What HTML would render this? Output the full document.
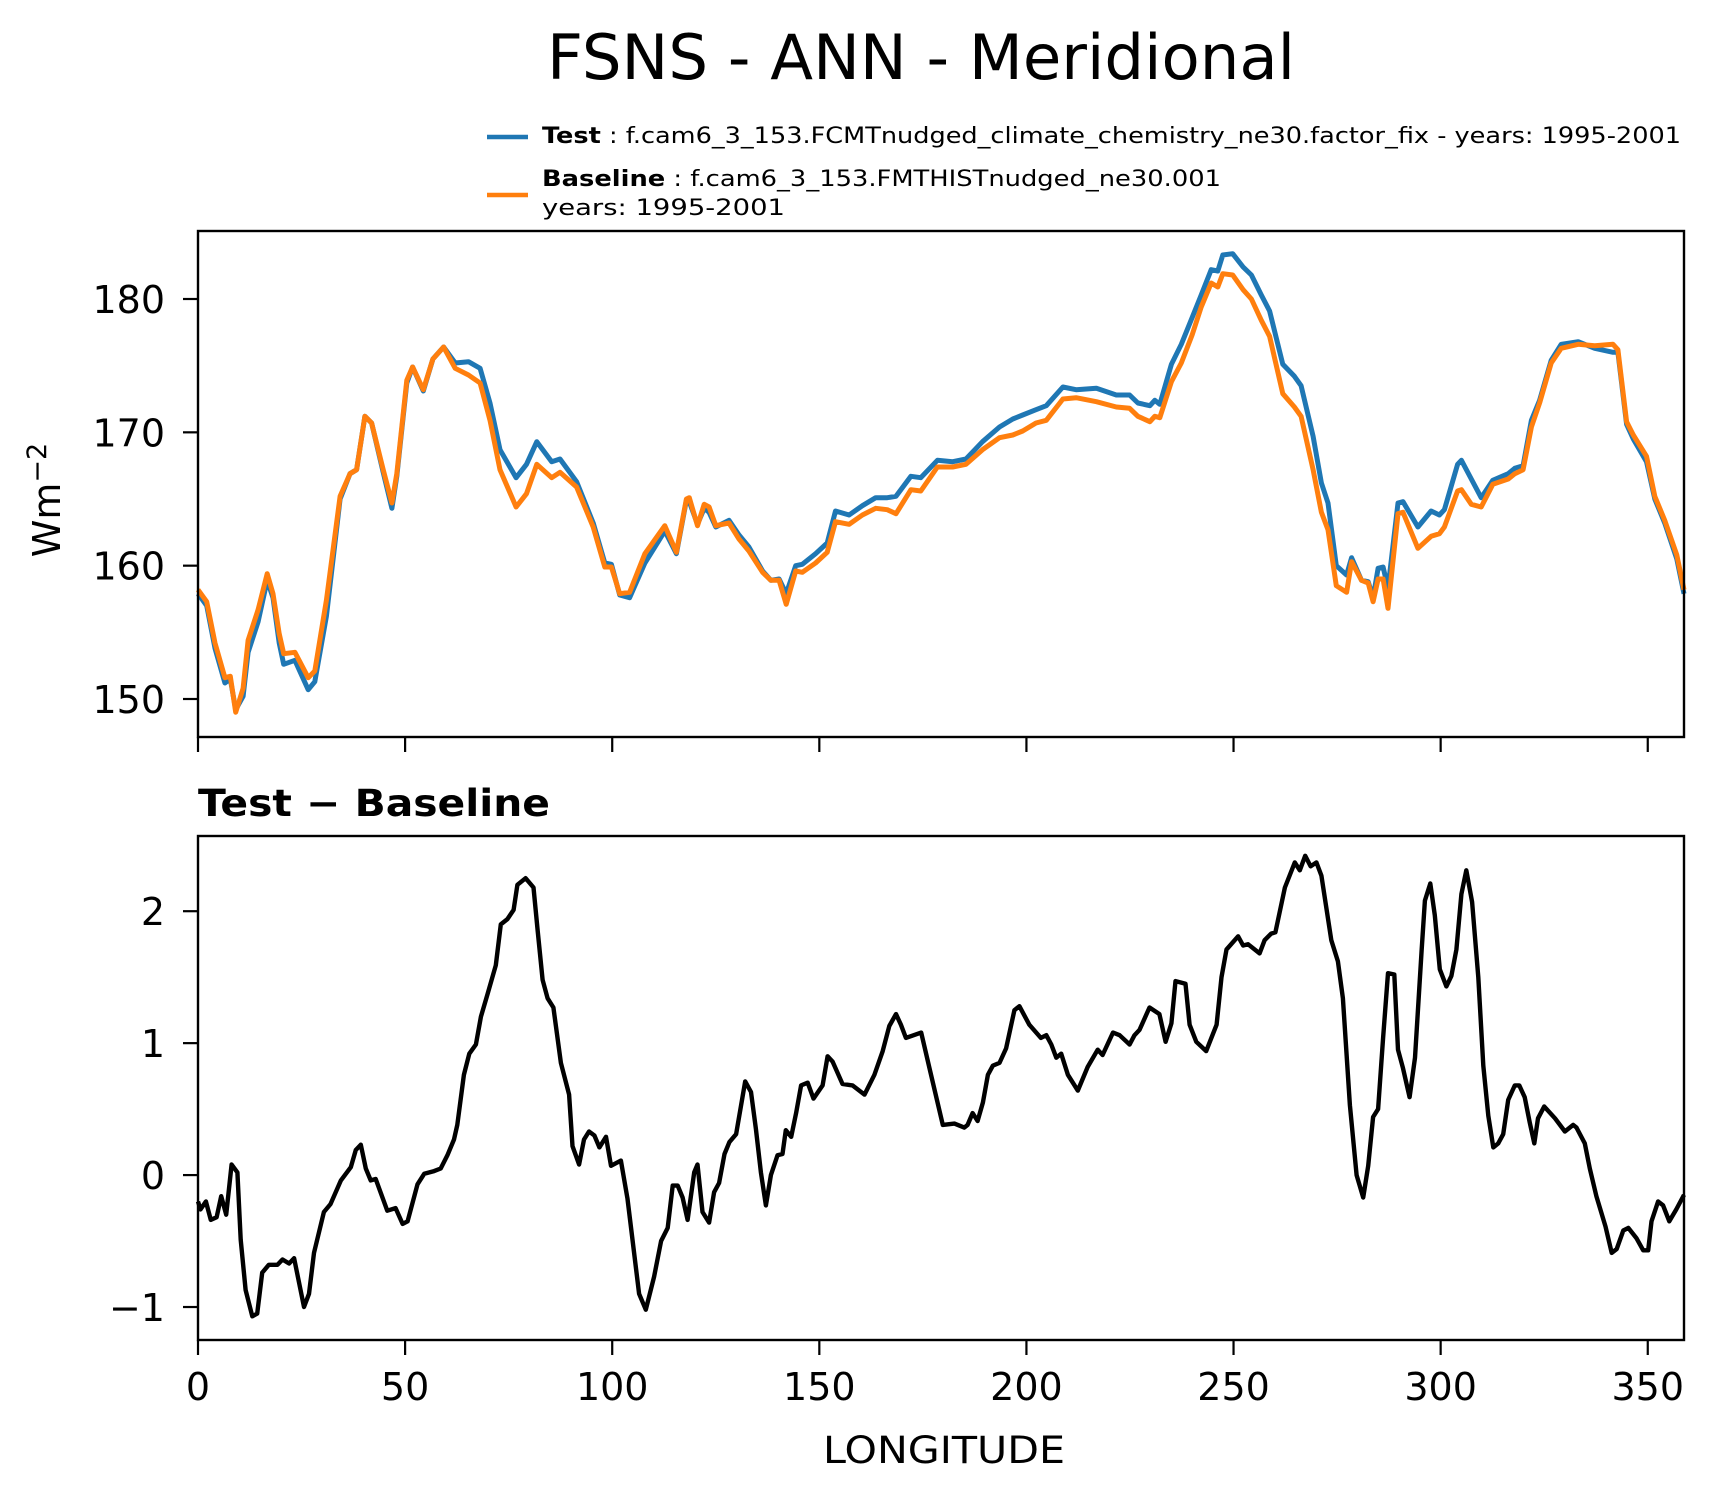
<!DOCTYPE html>
<html><head><meta charset="utf-8"><title>FSNS - ANN - Meridional</title>
<style>
html,body{margin:0;padding:0;background:#fff;}
svg{display:block;font-family:"DejaVu Sans","Liberation Sans",sans-serif;}
</style></head>
<body>
<svg id="fig" xmlns="http://www.w3.org/2000/svg" width="1717" height="1496" viewBox="0 0 1717 1496">
<rect width="1717" height="1496" fill="#fff"/>
<text x="921" y="79" font-size="62" text-anchor="middle" textLength="748" lengthAdjust="spacingAndGlyphs">FSNS - ANN - Meridional</text>
<g>
<line x1="487" y1="137" x2="528" y2="137" stroke="#1f77b4" stroke-width="4.5"/>
<text x="542" y="143" font-size="22" textLength="1139" lengthAdjust="spacingAndGlyphs"><tspan font-weight="bold">Test</tspan> : f.cam6_3_153.FCMTnudged_climate_chemistry_ne30.factor_fix - years: 1995-2001</text>
<line x1="487" y1="195" x2="528" y2="195" stroke="#ff7f0e" stroke-width="4.5"/>
<text x="542" y="186" font-size="22" textLength="679" lengthAdjust="spacingAndGlyphs"><tspan font-weight="bold">Baseline</tspan> : f.cam6_3_153.FMTHISTnudged_ne30.001</text>
<text x="542" y="215" font-size="22" textLength="243" lengthAdjust="spacingAndGlyphs">years: 1995-2001</text>
</g>
<g id="topPanel"></g>
<g id="botPanel"></g>
<text transform="translate(60,500) rotate(-90)" font-size="38" text-anchor="middle">Wm<tspan dy="-14" font-size="27">−2</tspan></text>
<text x="198" y="816" font-size="37" font-weight="bold" textLength="352" lengthAdjust="spacingAndGlyphs">Test − Baseline</text>
<text x="944" y="1463" font-size="37" text-anchor="middle" textLength="242" lengthAdjust="spacingAndGlyphs">LONGITUDE</text>
</svg>
<script>
const baseLon = [0,2.1,4.1,6.5,7.8,9.1,10.9,12.1,14.5,16.7,18.1,19.6,20.7,23.4,26.6,28.2,31,34.3,36.7,38.3,40.3,41.9,44.7,46.8,48,50.4,51.8,54.4,56.7,59.3,62.1,65.3,68.1,70.5,72.9,76.8,79.3,81.8,85.4,87.4,91.4,95.4,98.2,99.8,101.8,104.2,107.9,112.7,115.5,117.9,118.6,120.6,122.2,123.4,125,128.2,130.6,133,136.3,138.3,140.3,142,144.3,145.9,149.1,151.9,153.9,157.2,160.4,163.6,166.4,168.5,172.1,174.5,178.5,182.2,185.4,189.4,193.5,196.7,199.1,202.3,204.8,208.8,212,216.9,221.7,224.9,226.9,229.8,231,232.2,235,237.4,240,242.2,244.6,246.2,247.4,249.8,252.3,254.3,256.7,258.7,261.9,264.7,266.3,269.2,271.2,272.8,274.8,277.3,278.5,280.9,282.5,283.7,284.9,286.1,287.3,289.7,290.9,294.5,297.7,299.7,300.9,304.1,305,307.4,309.8,312.6,316.3,317.9,319.9,321.9,323.9,326.7,329.1,333.2,337.2,341.6,342.8,344.9,346.5,349.7,351.7,354.1,357,358.75];
const baselineVals = [158.2,157.3,154.2,151.6,151.7,149.0,150.8,154.4,156.7,159.4,157.9,154.9,153.4,153.5,151.6,152.1,157.4,165.2,166.9,167.2,171.2,170.7,167.2,164.7,166.9,173.9,174.9,173.2,175.5,176.4,174.8,174.3,173.7,170.9,167.2,164.4,165.4,167.6,166.6,167.0,165.9,162.9,159.9,159.9,157.9,158.0,160.9,163.0,161.0,165.0,165.1,163.0,164.6,164.4,163.0,163.2,162.0,161.1,159.5,158.9,158.9,157.1,159.6,159.5,160.2,161.0,163.3,163.1,163.8,164.3,164.2,163.9,165.7,165.6,167.4,167.4,167.6,168.7,169.6,169.8,170.1,170.7,170.9,172.5,172.6,172.3,171.9,171.8,171.2,170.8,171.2,171.1,173.8,175.2,177.3,179.4,181.2,180.9,181.9,181.8,180.7,180.0,178.4,177.2,172.9,171.9,171.2,167.2,164.0,162.7,158.5,158.0,160.3,158.9,158.7,157.3,159.0,159.0,156.8,163.9,164.0,161.3,162.2,162.4,162.9,165.6,165.7,164.6,164.4,166.1,166.5,166.9,167.2,170.4,172.2,175.2,176.3,176.6,176.5,176.6,176.2,170.8,169.8,168.2,165.2,163.4,160.8,158.2];
const testVals = [157.9,157.0,153.8,151.2,151.5,149.2,150.2,153.5,155.8,158.9,157.6,154.2,152.6,152.9,150.7,151.3,156.2,165.0,166.9,167.2,171.2,170.7,167.0,164.3,166.7,173.7,174.9,173.1,175.5,176.4,175.2,175.3,174.8,172.2,168.7,166.6,167.6,169.3,167.8,168.0,166.3,163.2,160.2,160.1,157.8,157.6,160.2,162.6,160.9,164.9,164.8,163.1,164.3,164.0,162.9,163.4,162.3,161.4,159.6,158.9,159.0,157.9,160.0,160.1,160.9,161.7,164.1,163.8,164.5,165.1,165.1,165.2,166.7,166.6,167.9,167.8,168.0,169.3,170.4,171.0,171.3,171.7,172.0,173.4,173.2,173.3,172.8,172.8,172.2,172.0,172.4,172.1,175.1,176.6,178.6,180.3,182.2,182.1,183.3,183.4,182.4,181.8,180.3,179.1,175.1,174.2,173.5,169.7,166.2,164.7,160.0,159.3,160.6,158.9,158.8,157.6,159.8,159.9,158.3,164.7,164.8,162.9,164.1,163.8,164.2,167.6,167.9,166.5,165.1,166.4,166.9,167.3,167.5,170.9,172.4,175.4,176.6,176.8,176.3,176.0,176.0,170.6,169.5,167.8,165.0,163.2,160.5,157.9];
const diffLon = [0,0.6,1.9,3.1,4.5,5.6,6.8,8.1,9.5,10.3,11.5,13.1,14.3,15.5,17.1,19.2,20.4,22.0,23.2,25.6,26.8,28.0,30.4,32.0,34.5,36.9,38.1,39.3,40.5,41.7,42.9,45.7,47.7,49.4,50.6,53.0,54.6,57.0,58.6,60.2,61.8,62.6,64.2,65.5,67.1,68.3,69.9,71.9,73.1,74.7,76.2,77.1,79.1,81.0,82.0,83.2,84.4,85.8,87.6,89.6,90.4,92.0,93.2,94.4,95.7,96.9,98.5,99.7,102.1,103.7,106.5,108.1,110.1,111.8,113.4,114.6,115.8,117.0,118.2,119.8,120.6,121.8,123.4,124.6,125.8,127.1,128.3,129.9,132.1,133.5,134.7,135.9,137.1,138.3,139.9,141.1,141.9,143.2,144.4,145.6,147.2,148.6,150.8,152.0,153.2,155.6,158.0,160.9,163.3,165.3,166.9,168.5,169.7,170.9,174.6,176.6,179.8,182.6,185.0,185.8,187.0,188.2,189.5,190.7,191.9,193.5,195.1,197.1,198.3,200.7,203.5,204.8,206.0,207.2,208.4,210.0,212.4,214.8,217.2,218.4,220.9,222.5,224.9,226.1,227.3,229.7,232.1,233.6,235.0,236.0,238.4,239.4,241.0,243.4,245.9,247.1,248.3,251.1,252.3,253.5,256.3,257.5,259.1,260.1,262.4,264.8,266.0,267.3,268.6,270.0,271.2,273.6,275.2,276.4,278.1,279.7,281.3,282.5,283.7,284.9,286.1,287.3,288.8,289.7,290.9,292.5,293.8,295.4,296.2,297.5,298.6,299.8,301.4,302.6,303.8,305.0,306.2,307.6,309.1,310.3,311.5,312.7,313.9,315.1,316.3,317.9,319.0,320.3,321.5,322.6,323.5,325.0,327.6,330.0,332.0,332.8,334.8,336.0,337.6,339.8,341.3,342.5,344.1,345.3,347.3,348.9,350.1,350.9,352.5,353.7,355.2,356.9,358.75];
const diffVals = [-0.20,-0.26,-0.20,-0.34,-0.32,-0.16,-0.30,0.08,0.02,-0.49,-0.87,-1.07,-1.05,-0.74,-0.68,-0.68,-0.64,-0.67,-0.63,-1.0,-0.90,-0.59,-0.28,-0.22,-0.04,0.06,0.19,0.23,0.05,-0.04,-0.03,-0.27,-0.25,-0.37,-0.35,-0.07,0.01,0.03,0.05,0.15,0.27,0.38,0.76,0.92,0.99,1.20,1.37,1.59,1.90,1.94,2.01,2.20,2.25,2.18,1.85,1.48,1.34,1.27,0.85,0.61,0.22,0.08,0.27,0.33,0.30,0.21,0.29,0.07,0.11,-0.18,-0.90,-1.02,-0.77,-0.50,-0.40,-0.08,-0.08,-0.17,-0.34,0.02,0.08,-0.28,-0.36,-0.13,-0.06,0.16,0.25,0.31,0.71,0.63,0.35,0.02,-0.23,0,0.15,0.16,0.34,0.29,0.47,0.68,0.70,0.58,0.68,0.90,0.86,0.69,0.68,0.61,0.76,0.94,1.13,1.22,1.14,1.04,1.08,0.81,0.38,0.39,0.36,0.38,0.47,0.41,0.55,0.76,0.83,0.85,0.96,1.25,1.28,1.14,1.04,1.06,0.99,0.89,0.92,0.76,0.64,0.82,0.95,0.91,1.08,1.06,0.99,1.06,1.10,1.27,1.22,1.01,1.15,1.47,1.45,1.14,1.01,0.94,1.14,1.50,1.71,1.81,1.74,1.75,1.68,1.78,1.83,1.84,2.18,2.37,2.31,2.42,2.34,2.37,2.27,1.78,1.62,1.34,0.53,0.0,-0.17,0.07,0.44,0.50,1.04,1.53,1.52,0.95,0.81,0.59,0.89,1.70,2.08,2.21,1.97,1.56,1.43,1.51,1.71,2.13,2.31,2.07,1.50,0.83,0.45,0.21,0.24,0.31,0.57,0.68,0.68,0.59,0.40,0.24,0.43,0.52,0.43,0.33,0.38,0.36,0.24,0.05,-0.16,-0.39,-0.59,-0.56,-0.42,-0.40,-0.48,-0.57,-0.57,-0.35,-0.20,-0.23,-0.35,-0.26,-0.15];
const xTicks = [0,50,100,150,200,250,300,350];
const topTicks = [150,160,170,180];
const botTicks = [-1,0,1,2];

const NS = 'http://www.w3.org/2000/svg';
const L = 198, R = 1684, XMAX = 358.75;
const TT = 231, TB = 737, TMIN = 147.15, TMAX = 185.1;
const BT = 836, BB = 1340, BMIN = -1.25, BMAX = 2.57;
function xs(v){ return L + v/XMAX*(R-L); }
function yt(v){ return TB - (v-TMIN)/(TMAX-TMIN)*(TB-TT); }
function yb(v){ return BB - (v-BMIN)/(BMAX-BMIN)*(BB-BT); }
function mk(tag, attrs, parent){
  const e = document.createElementNS(NS, tag);
  for (const k in attrs) e.setAttribute(k, attrs[k]);
  parent.appendChild(e); return e;
}
function linePath(lons, vals, yf){
  return lons.map((l,i)=>(i?'L':'M')+xs(l).toFixed(1)+','+yf(vals[i]).toFixed(1)).join('');
}
const topG = document.getElementById('topPanel');
const botG = document.getElementById('botPanel');

const lt = mk('path', {d: linePath(baseLon, testVals, yt), fill:'none', stroke:'#1f77b4', 'stroke-width':5, 'stroke-linejoin':'round'}, topG);


const lb = mk('path', {d: linePath(baseLon, baselineVals, yt), fill:'none', stroke:'#ff7f0e', 'stroke-width':5, 'stroke-linejoin':'round'}, topG);


const ld = mk('path', {d: linePath(diffLon, diffVals, yb), fill:'none', stroke:'#000', 'stroke-width':4.4, 'stroke-linejoin':'round'}, botG);



[[topG,TT,TB],[botG,BT,BB]].forEach(([g,t,b],pi)=>{
  const fr = mk('rect', {x:L, y:t, width:R-L, height:b-t, fill:'none', stroke:'#000', 'stroke-width':2.4}, g);
  
  
  xTicks.forEach(v=>{
    const tk = mk('line', {x1:xs(v), x2:xs(v), y1:b, y2:b+15, stroke:'#000', 'stroke-width':2.2}, g);
    
    
    if (pi) {
      const tl = mk('text', {x:xs(v), y:b+60, 'font-size':38, 'text-anchor':'middle'}, g);
      tl.textContent = String(v);
      
      
    }
  });
});
topTicks.forEach(v=>{
  const tk = mk('line', {x1:L-15, x2:L, y1:yt(v), y2:yt(v), stroke:'#000', 'stroke-width':2.2}, topG);
  
  
  const tl = mk('text', {x:L-33, y:yt(v)+14, 'font-size':38, 'text-anchor':'end'}, topG);
  tl.textContent = String(v);
  
  
});
botTicks.forEach(v=>{
  const tk = mk('line', {x1:L-15, x2:L, y1:yb(v), y2:yb(v), stroke:'#000', 'stroke-width':2.2}, botG);
  
  
  const tl = mk('text', {x:L-33, y:yb(v)+14, 'font-size':38, 'text-anchor':'end'}, botG);
  tl.textContent = v < 0 ? '\u2212' + Math.abs(v) : String(v);
  
  
});
</script>
</body></html>
